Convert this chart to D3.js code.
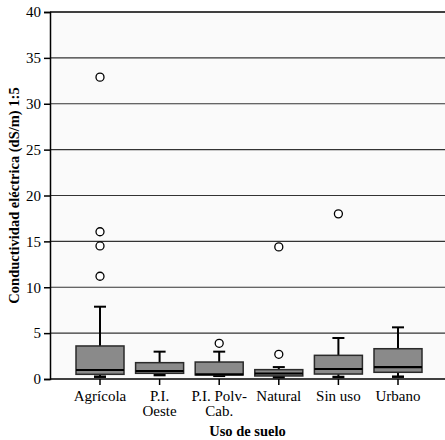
<!DOCTYPE html>
<html>
<head>
<meta charset="utf-8">
<script src="https://cdn.jsdelivr.net/npm/d3@7"></script>
<style>
  body { margin: 0; background: #fff; }
  text { font-family: "Liberation Serif", "Times New Roman", serif; }
</style>
</head>
<body>
<svg id="chart" width="445" height="440"></svg>
<script>
// categories and box stats
const categories = ["Agrícola", "P.I. Oeste", "P.I. Polv-Cab.", "Natural", "Sin uso", "Urbano"];
const catLabels = [["Agrícola"], ["P.I.", "Oeste"], ["P.I. Polv-", "Cab."], ["Natural"], ["Sin uso"], ["Urbano"]];
const whiskerLow = [0.25, 0.43, 0.35, 0.2, 0.22, 0.25];
const q1 = [0.51, 0.62, 0.44, 0.33, 0.54, 0.73];
const medians = [0.98, 0.87, 0.5, 0.6, 1.09, 1.3];
const q3 = [3.6, 1.78, 1.85, 1.02, 2.58, 3.3];
const whiskerHigh = [7.88, 2.98, 2.98, 1.3, 4.47, 5.63];
const outliers = [[32.9, 16.05, 14.5, 11.2], [], [3.89], [14.4, 2.69], [18.0], []];
const yTicks = [0, 5, 10, 15, 20, 25, 30, 35, 40];

const svg = d3.select("#chart");
const plotLeft = 50, plotRight = 445, plotTop = 12, plotBottom = 379;

var x = d3.scalePoint()
    .domain(categories)
    .range([100, 398]);

var y = d3.scaleLinear()
    .domain([0, 40])
    .range([plotBottom, plotTop]);

const boxW = 48, capW = 12;

// plot background
svg.append("rect")
    .attr("x", plotLeft).attr("y", plotTop)
    .attr("width", plotRight - plotLeft).attr("height", plotBottom - plotTop)
    .attr("fill", "#fafafa");

// gridlines
svg.append("g").selectAll("line")
    .data(yTicks.filter(d => d > 0 && d < 40))
    .enter().append("line")
    .attr("x1", plotLeft).attr("x2", plotRight)
    .attr("y1", d => y(d)).attr("y2", d => y(d))
    .attr("stroke", "#333").attr("stroke-width", 1.2);

// top border
svg.append("line")
    .attr("x1", plotLeft).attr("x2", plotRight)
    .attr("y1", y(40)).attr("y2", y(40))
    .attr("stroke", "#000").attr("stroke-width", 1.5);

// y axis
var yAxis = d3.axisLeft(y).tickValues(yTicks).tickSize(6).tickPadding(3);
var gy = svg.append("g").attr("transform", "translate(" + plotLeft + ",0)").call(yAxis);
gy.select(".domain").attr("stroke", "#000").attr("stroke-width", 1.5);
gy.selectAll(".tick line").attr("stroke", "#000").attr("stroke-width", 1.5);
gy.selectAll(".tick text")
    .style("font-family", "Liberation Serif, serif")
    .style("font-size", "15px").attr("fill", "#000");

// boxes
var boxes = svg.append("g").selectAll("g")
    .data(categories)
    .enter().append("g");

// whiskers
boxes.append("line")
    .attr("x1", d => x(d)).attr("x2", d => x(d))
    .attr("y1", (d, i) => y(q3[i])).attr("y2", (d, i) => y(whiskerHigh[i]))
    .attr("stroke", "#000").attr("stroke-width", 2);
boxes.append("line")
    .attr("x1", d => x(d)).attr("x2", d => x(d))
    .attr("y1", (d, i) => y(q1[i])).attr("y2", (d, i) => y(whiskerLow[i]))
    .attr("stroke", "#000").attr("stroke-width", 2);
boxes.append("line")
    .attr("x1", d => x(d) - capW / 2).attr("x2", d => x(d) + capW / 2)
    .attr("y1", (d, i) => y(whiskerHigh[i])).attr("y2", (d, i) => y(whiskerHigh[i]))
    .attr("stroke", "#000").attr("stroke-width", 2);
boxes.append("line")
    .attr("x1", d => x(d) - capW / 2).attr("x2", d => x(d) + capW / 2)
    .attr("y1", (d, i) => y(whiskerLow[i])).attr("y2", (d, i) => y(whiskerLow[i]))
    .attr("stroke", "#000").attr("stroke-width", 2.5);

boxes.append("rect")
    .attr("x", d => x(d) - boxW / 2)
    .attr("y", (d, i) => y(q3[i]))
    .attr("width", boxW)
    .attr("height", (d, i) => y(q1[i]) - y(q3[i]))
    .attr("fill", "#8a8a8a")
    .attr("stroke", "#2a2a2a").attr("stroke-width", 1.5);

boxes.append("line")
    .attr("x1", d => x(d) - boxW / 2).attr("x2", d => x(d) + boxW / 2)
    .attr("y1", (d, i) => y(medians[i])).attr("y2", (d, i) => y(medians[i]))
    .attr("stroke", "#000").attr("stroke-width", 2.2);

// outliers
boxes.selectAll("circle")
    .data((d, i) => outliers[i].map(v => ({ c: d, v: v })))
    .enter().append("circle")
    .attr("cx", d => x(d.c))
    .attr("cy", d => y(d.v))
    .attr("r", 4)
    .attr("fill", "#fff")
    .attr("stroke", "#000").attr("stroke-width", 1.3);

// bottom axis
svg.append("line")
    .attr("x1", plotLeft).attr("x2", plotRight)
    .attr("y1", plotBottom).attr("y2", plotBottom)
    .attr("stroke", "#000").attr("stroke-width", 1.5);
svg.append("g").selectAll("line")
    .data(categories)
    .enter().append("line")
    .attr("x1", d => x(d)).attr("x2", d => x(d))
    .attr("y1", plotBottom).attr("y2", plotBottom + 6)
    .attr("stroke", "#000").attr("stroke-width", 1.5);

// category labels
var labels = svg.append("g").selectAll("text")
    .data(categories)
    .enter().append("text")
    .attr("x", d => x(d))
    .attr("y", 401)
    .attr("text-anchor", "middle")
    .style("font-size", "15px");
labels.selectAll("tspan")
    .data((d, i) => catLabels[i].map(t => ({ c: d, t: t })))
    .enter().append("tspan")
    .attr("x", d => x(d.c))
    .attr("dy", (d, j) => j === 0 ? 0 : 15)
    .text(d => d.t);

// axis titles
svg.append("text")
    .attr("x", (plotLeft + plotRight) / 2)
    .attr("y", 436)
    .attr("text-anchor", "middle")
    .style("font-size", "14.5px").style("font-weight", "bold")
    .text("Uso de suelo");

svg.append("text")
    .attr("transform", "translate(19," + ((plotTop + plotBottom) / 2) + ") rotate(-90)")
    .attr("text-anchor", "middle")
    .style("font-size", "14.5px").style("font-weight", "bold")
    .text("Conductividad eléctrica (dS/m) 1:5");
</script>
</body>
</html>
